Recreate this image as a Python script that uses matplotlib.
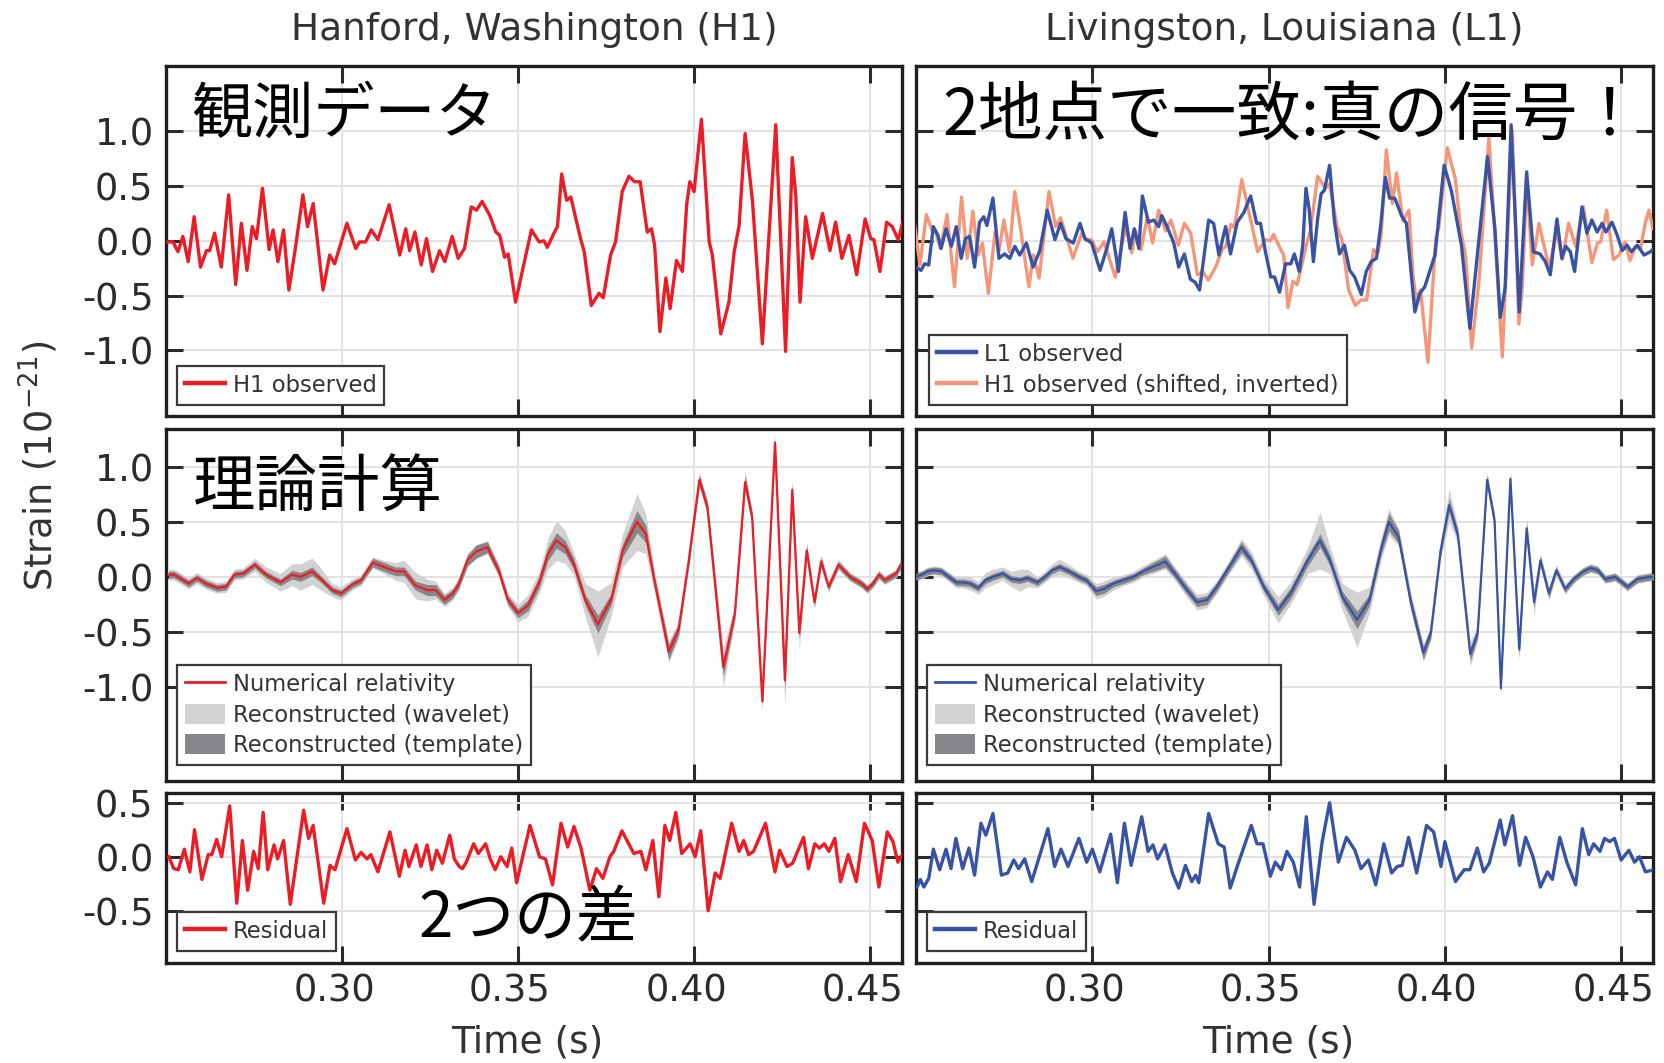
import matplotlib
matplotlib.use("Agg")
import matplotlib.pyplot as plt
import matplotlib.transforms as mtransforms
from matplotlib.ticker import FixedLocator, FormatStrFormatter
from matplotlib.patches import Patch
from matplotlib.lines import Line2D
import numpy as np

plt.rcParams['font.family'] = ['DejaVu Sans']
plt.rcParams['axes.unicode_minus'] = False
JP = ['Noto Sans CJK JP', 'DejaVu Sans']

# ---------------- data (strain in units of 1e-21, time in s) ----------------
h1_t = [0.2506, 0.2520, 0.2534, 0.2548, 0.2563, 0.2580, 0.2598, 0.2615, 0.2624, 0.2638,
        0.2657, 0.2678, 0.2698, 0.2714, 0.2730, 0.2745, 0.2757, 0.2774, 0.2793, 0.2804,
        0.2818, 0.2834, 0.2849, 0.2866, 0.2889, 0.2902, 0.2918, 0.2946, 0.2965, 0.2979,
        0.3014, 0.3039, 0.3050, 0.3067, 0.3083, 0.3102, 0.3134, 0.3164, 0.3181, 0.3192,
        0.3207, 0.3225, 0.3240, 0.3257, 0.3277, 0.3292, 0.3313, 0.3330, 0.3348, 0.3367,
        0.3382, 0.3398, 0.3420, 0.3437, 0.3448, 0.3462, 0.3472, 0.3493, 0.3514, 0.3538,
        0.3560, 0.3574, 0.3583, 0.3602, 0.3612, 0.3624, 0.3638, 0.3650, 0.3676, 0.3688,
        0.3708, 0.3730, 0.3742, 0.3763, 0.3777, 0.3796, 0.3815, 0.3831, 0.3847, 0.3867,
        0.3879, 0.3888, 0.3903, 0.3920, 0.3932, 0.3950, 0.3967, 0.3979, 0.3988, 0.4000,
        0.4021, 0.4043, 0.4052, 0.4076, 0.4099, 0.4114, 0.4128, 0.4145, 0.4166, 0.4194,
        0.4232, 0.4260, 0.4279, 0.4289, 0.4301, 0.4317, 0.4336, 0.4365, 0.4386, 0.4402,
        0.4420, 0.4440, 0.4462, 0.4486, 0.4502, 0.4511, 0.4528, 0.4547, 0.4563, 0.4580,
        0.4594, 0.4610, 0.4624, 0.4638, 0.4648, 0.4659]
h1_obs = [-0.01, -0.01, -0.10, 0.04, -0.19, 0.22, -0.24, -0.09, -0.09, 0.07,
          -0.24, 0.42, -0.40, 0.16, -0.27, 0.13, 0.02, 0.48, -0.08, 0.10,
          -0.19, 0.10, -0.45, -0.10, 0.42, 0.13, 0.34, -0.45, -0.13, -0.21,
          0.16, -0.07, -0.01, -0.01, 0.10, 0.01, 0.33, -0.13, 0.11, -0.09,
          0.08, -0.22, 0.02, -0.28, -0.09, -0.19, 0.04, -0.16, -0.07, 0.31,
          0.28, 0.36, 0.23, 0.08, 0.05, -0.15, -0.12, -0.56, -0.25, 0.10,
          -0.01, 0.00, -0.06, 0.07, 0.13, 0.61, 0.37, 0.40, 0.04, -0.10,
          -0.59, -0.48, -0.52, -0.13, -0.01, 0.45, 0.59, 0.54, 0.54, 0.08,
          0.11, -0.04, -0.83, -0.34, -0.62, -0.18, -0.28, 0.33, 0.54, 0.45,
          1.11, -0.01, -0.13, -0.85, -0.56, -0.10, 0.14, 0.98, 0.36, -0.94,
          1.06, -1.01, 0.76, 0.41, -0.56, 0.22, -0.16, 0.25, -0.09, 0.17,
          -0.16, 0.05, -0.31, 0.20, 0.02, 0.01, -0.28, 0.17, 0.13, 0.01,
          0.18, 0.05, 0.07, -0.17, -0.28, -0.11]

# H1 arrives later than L1; shifting it earlier and flipping the sign overlays it on L1
H1_SHIFT = 0.0069

l1_t = [0.2505, 0.2514, 0.2524, 0.2536, 0.2549, 0.2562, 0.2571, 0.2585, 0.2600, 0.2614,
        0.2628, 0.2640, 0.2652, 0.2666, 0.2680, 0.2692, 0.2701, 0.2718, 0.2735, 0.2751,
        0.2766, 0.2780, 0.2794, 0.2813, 0.2832, 0.2851, 0.2872, 0.2894, 0.2910, 0.2925,
        0.2946, 0.2965, 0.2979, 0.2998, 0.3022, 0.3041, 0.3055, 0.3074, 0.3093, 0.3107,
        0.3119, 0.3132, 0.3142, 0.3159, 0.3174, 0.3188, 0.3197, 0.3212, 0.3231, 0.3245,
        0.3261, 0.3278, 0.3292, 0.3304, 0.3316, 0.3330, 0.3344, 0.3359, 0.3378, 0.3392,
        0.3411, 0.3430, 0.3449, 0.3466, 0.3477, 0.3491, 0.3506, 0.3517, 0.3531, 0.3548,
        0.3563, 0.3573, 0.3587, 0.3597, 0.3606, 0.3615, 0.3627, 0.3639, 0.3649, 0.3658,
        0.3673, 0.3687, 0.3701, 0.3715, 0.3730, 0.3744, 0.3763, 0.3777, 0.3791, 0.3806,
        0.3818, 0.3831, 0.3843, 0.3858, 0.3877, 0.3891, 0.3915, 0.3929, 0.3943, 0.3972,
        0.3998, 0.4019, 0.4047, 0.4071, 0.4095, 0.4121, 0.4142, 0.4157, 0.4171, 0.4188,
        0.4199, 0.4211, 0.4232, 0.4251, 0.4270, 0.4285, 0.4299, 0.4318, 0.4332, 0.4343,
        0.4356, 0.4368, 0.4389, 0.4403, 0.4417, 0.4432, 0.4446, 0.4457, 0.4474, 0.4489,
        0.4503, 0.4517, 0.4529, 0.4546, 0.4565, 0.4583, 0.4593]
l1_obs = [-0.25, -0.27, -0.21, -0.22, 0.13, 0.05, -0.07, 0.11, -0.05, 0.13,
          -0.16, 0.02, 0.04, -0.24, 0.17, 0.22, 0.14, 0.39, -0.16, -0.12,
          -0.16, -0.05, -0.13, -0.02, -0.24, -0.09, 0.28, 0.01, 0.16, 0.02,
          -0.02, 0.16, 0.02, -0.02, -0.27, -0.07, 0.11, -0.28, 0.26, -0.07,
          0.11, -0.07, 0.41, 0.17, 0.19, 0.13, 0.23, 0.13, -0.02, -0.24,
          -0.12, -0.35, -0.38, -0.45, -0.16, 0.19, 0.16, -0.13, 0.13, -0.12,
          0.17, 0.26, 0.41, 0.16, 0.16, -0.10, -0.33, -0.33, -0.47, -0.21,
          -0.21, -0.12, -0.28, -0.04, 0.48, 0.29, -0.19, 0.20, 0.43, 0.46,
          0.69, 0.17, -0.12, -0.04, -0.27, -0.33, -0.49, -0.28, -0.19, -0.16,
          0.14, 0.58, 0.39, 0.39, 0.23, 0.16, -0.65, -0.48, -0.42, -0.13,
          0.69, 0.45, -0.04, -0.80, -0.04, 0.77, 0.11, -0.70, -0.43, 1.06,
          0.27, -0.65, 0.63, -0.10, -0.12, -0.19, -0.31, 0.20, -0.16, -0.05,
          -0.10, -0.28, 0.31, 0.07, 0.19, 0.08, 0.16, 0.08, 0.17, 0.05,
          -0.09, -0.04, -0.10, -0.04, -0.13, -0.10, -0.07]

nr_h1_t = [0.2507, 0.2523, 0.2544, 0.2564, 0.2588, 0.2613, 0.2645, 0.2670, 0.2694, 0.2719,
           0.2752, 0.2784, 0.2825, 0.2858, 0.2882, 0.2915, 0.2940, 0.2972, 0.2997, 0.3029,
           0.3054, 0.3087, 0.3119, 0.3152, 0.3176, 0.3209, 0.3242, 0.3266, 0.3291, 0.3315,
           0.3332, 0.3356, 0.3381, 0.3413, 0.3446, 0.3471, 0.3500, 0.3528, 0.3560, 0.3585,
           0.3609, 0.3634, 0.3658, 0.3691, 0.3727, 0.3765, 0.3797, 0.3838, 0.3863, 0.3887,
           0.3928, 0.3956, 0.3985, 0.4015, 0.4038, 0.4083, 0.4116, 0.4145, 0.4165, 0.4194,
           0.4230, 0.4258, 0.4279, 0.4299, 0.4320, 0.4342, 0.4361, 0.4382, 0.4410, 0.4443,
           0.4475, 0.4492, 0.4508, 0.4525, 0.4541, 0.4574, 0.4587]
nr_h1 = [0.02, 0.02, -0.02, -0.06, -0.01, -0.06, -0.10, -0.09, 0.02, 0.03,
         0.11, 0.02, -0.05, 0.02, 0.00, 0.05, -0.02, -0.12, -0.15, -0.07,
         -0.03, 0.13, 0.09, 0.05, 0.05, -0.08, -0.12, -0.12, -0.21, -0.15,
         -0.06, 0.15, 0.23, 0.27, 0.05, -0.21, -0.33, -0.26, -0.05, 0.21,
         0.33, 0.27, 0.12, -0.21, -0.43, -0.20, 0.24, 0.50, 0.39, -0.03,
         -0.68, -0.48, 0.15, 0.88, 0.63, -0.82, -0.33, 0.86, 0.54, -1.13,
         1.22, -0.94, 0.79, -0.51, 0.24, -0.23, 0.14, -0.09, 0.11, 0.00,
         -0.06, -0.11, -0.06, 0.02, -0.03, 0.03, 0.11]
h1_wavelet_hw = [0.05, 0.05, 0.05, 0.05, 0.05, 0.05, 0.05, 0.05, 0.05, 0.05,
                 0.06, 0.07, 0.08, 0.10, 0.12, 0.12, 0.10, 0.06, 0.06, 0.05,
                 0.05, 0.05, 0.06, 0.08, 0.10, 0.12, 0.10, 0.08, 0.06, 0.06,
                 0.06, 0.06, 0.06, 0.06, 0.06, 0.06, 0.08, 0.10, 0.10, 0.14,
                 0.18, 0.15, 0.10, 0.15, 0.30, 0.15, 0.15, 0.26, 0.18, 0.10,
                 0.10, 0.08, 0.06, 0.07, 0.06, 0.18, 0.08, 0.10, 0.06, 0.08,
                 0.08, 0.24, 0.10, 0.15, 0.08, 0.06, 0.06, 0.05, 0.05, 0.04,
                 0.04, 0.04, 0.04, 0.04, 0.04, 0.04, 0.04]
h1_template_hw = [0.03, 0.03, 0.03, 0.03, 0.03, 0.03, 0.03, 0.03, 0.03, 0.03,
                  0.03, 0.03, 0.03, 0.04, 0.04, 0.04, 0.03, 0.03, 0.03, 0.03,
                  0.03, 0.04, 0.04, 0.04, 0.04, 0.04, 0.05, 0.05, 0.04, 0.04,
                  0.04, 0.05, 0.06, 0.05, 0.04, 0.04, 0.04, 0.05, 0.05, 0.06,
                  0.07, 0.06, 0.05, 0.05, 0.08, 0.05, 0.06, 0.10, 0.08, 0.05,
                  0.07, 0.05, 0.05, 0.05, 0.05, 0.08, 0.05, 0.06, 0.05, 0.05,
                  0.03, 0.10, 0.05, 0.05, 0.05, 0.04, 0.04, 0.03, 0.03, 0.03,
                  0.03, 0.03, 0.03, 0.03, 0.03, 0.03, 0.03]

nr_l1_t = [0.2499, 0.2516, 0.2533, 0.2551, 0.2572, 0.2593, 0.2614, 0.2634, 0.2653, 0.2676,
           0.2697, 0.2718, 0.2746, 0.2770, 0.2795, 0.2816, 0.2844, 0.2865, 0.2886, 0.2907,
           0.2934, 0.2962, 0.2983, 0.3011, 0.3032, 0.3060, 0.3088, 0.3116, 0.3144, 0.3172,
           0.3207, 0.3234, 0.3269, 0.3297, 0.3325, 0.3353, 0.3388, 0.3423, 0.3451, 0.3486,
           0.3527, 0.3562, 0.3611, 0.3646, 0.3674, 0.3709, 0.3751, 0.3786, 0.3820, 0.3841,
           0.3869, 0.3904, 0.3939, 0.3960, 0.3988, 0.4012, 0.4037, 0.4072, 0.4093, 0.4120,
           0.4141, 0.4159, 0.4186, 0.4211, 0.4232, 0.4253, 0.4271, 0.4295, 0.4316, 0.4341,
           0.4365, 0.4393, 0.4413, 0.4434, 0.4455, 0.4483, 0.4518, 0.4546, 0.4581, 0.4602]
nr_l1 = [0.00, 0.02, 0.05, 0.06, 0.05, 0.00, -0.05, -0.05, -0.06, -0.10,
         -0.03, 0.00, 0.03, -0.02, -0.03, -0.01, -0.05, 0.00, 0.06, 0.09,
         0.05, 0.00, -0.03, -0.13, -0.11, -0.06, -0.03, 0.00, 0.05, 0.09,
         0.14, 0.03, -0.12, -0.23, -0.21, -0.09, 0.09, 0.27, 0.15, -0.09,
         -0.30, -0.15, 0.15, 0.33, 0.15, -0.18, -0.39, -0.21, 0.27, 0.50,
         0.36, -0.24, -0.69, -0.51, 0.24, 0.65, 0.38, -0.70, -0.51, 0.88,
         0.51, -1.01, 0.89, -0.66, 0.44, -0.23, 0.15, -0.15, 0.06, -0.11,
         -0.02, 0.05, 0.08, 0.06, -0.02, 0.00, -0.09, -0.02, 0.00, 0.00]
l1_wavelet_hw = [0.04, 0.04, 0.04, 0.04, 0.04, 0.04, 0.05, 0.05, 0.06, 0.06,
                 0.07, 0.07, 0.06, 0.07, 0.10, 0.08, 0.05, 0.05, 0.06, 0.07,
                 0.06, 0.05, 0.05, 0.07, 0.07, 0.06, 0.05, 0.05, 0.05, 0.06,
                 0.07, 0.06, 0.07, 0.07, 0.07, 0.06, 0.06, 0.08, 0.08, 0.08,
                 0.12, 0.10, 0.12, 0.26, 0.12, 0.12, 0.25, 0.12, 0.10, 0.12,
                 0.08, 0.08, 0.08, 0.06, 0.08, 0.15, 0.08, 0.12, 0.06, 0.06,
                 0.06, 0.05, 0.06, 0.10, 0.10, 0.12, 0.06, 0.06, 0.05, 0.05,
                 0.04, 0.04, 0.04, 0.04, 0.04, 0.04, 0.04, 0.04, 0.04, 0.04]
l1_template_hw = [0.03, 0.03, 0.03, 0.03, 0.03, 0.03, 0.03, 0.03, 0.03, 0.03,
                  0.03, 0.03, 0.03, 0.03, 0.03, 0.03, 0.03, 0.03, 0.03, 0.03,
                  0.03, 0.03, 0.03, 0.04, 0.04, 0.03, 0.03, 0.03, 0.03, 0.04,
                  0.05, 0.04, 0.04, 0.04, 0.04, 0.04, 0.04, 0.05, 0.04, 0.04,
                  0.05, 0.05, 0.05, 0.06, 0.05, 0.05, 0.08, 0.05, 0.06, 0.08,
                  0.06, 0.06, 0.06, 0.05, 0.05, 0.06, 0.05, 0.06, 0.05, 0.05,
                  0.05, 0.04, 0.05, 0.05, 0.05, 0.05, 0.04, 0.04, 0.03, 0.03,
                  0.03, 0.03, 0.03, 0.03, 0.03, 0.03, 0.03, 0.03, 0.03, 0.03]

res_h1_t = [0.2508, 0.2522, 0.2535, 0.2552, 0.2568, 0.2581, 0.2602, 0.2620, 0.2630, 0.2644,
            0.2658, 0.2681, 0.2701, 0.2717, 0.2732, 0.2749, 0.2762, 0.2776, 0.2789, 0.2807,
            0.2817, 0.2834, 0.2853, 0.2891, 0.2905, 0.2918, 0.2948, 0.2966, 0.2980, 0.3014,
            0.3038, 0.3054, 0.3071, 0.3082, 0.3102, 0.3136, 0.3163, 0.3179, 0.3190, 0.3211,
            0.3224, 0.3242, 0.3255, 0.3269, 0.3285, 0.3306, 0.3319, 0.3333, 0.3342, 0.3353,
            0.3374, 0.3387, 0.3408, 0.3421, 0.3435, 0.3451, 0.3469, 0.3482, 0.3496, 0.3534,
            0.3561, 0.3578, 0.3598, 0.3622, 0.3641, 0.3659, 0.3679, 0.3704, 0.3723, 0.3741,
            0.3761, 0.3772, 0.3795, 0.3829, 0.3849, 0.3863, 0.3883, 0.3900, 0.3917, 0.3931,
            0.3948, 0.3965, 0.3989, 0.4003, 0.4019, 0.4040, 0.4060, 0.4074, 0.4107, 0.4128,
            0.4141, 0.4155, 0.4169, 0.4203, 0.4230, 0.4243, 0.4264, 0.4280, 0.4311, 0.4325,
            0.4343, 0.4356, 0.4370, 0.4383, 0.4400, 0.4416, 0.4438, 0.4461, 0.4484, 0.4506,
            0.4525, 0.4549, 0.4565, 0.4579, 0.4597]
res_h1 = [0.00, -0.11, -0.12, 0.07, -0.14, 0.25, -0.21, 0.02, 0.02, 0.16,
          0.00, 0.47, -0.43, 0.15, -0.31, 0.05, -0.11, 0.41, -0.12, 0.11,
          -0.02, 0.15, -0.44, 0.43, 0.17, 0.29, -0.43, -0.08, -0.12, 0.26,
          -0.03, 0.04, -0.02, 0.02, -0.14, 0.23, -0.18, 0.06, -0.09, 0.11,
          -0.09, 0.11, -0.12, 0.06, -0.06, 0.20, -0.02, -0.09, -0.11, -0.05,
          0.12, 0.03, 0.12, -0.02, -0.12, 0.00, -0.09, 0.08, -0.24, 0.29,
          0.00, -0.02, -0.26, 0.31, 0.09, 0.28, 0.08, -0.31, -0.11, -0.20,
          0.00, 0.05, 0.24, 0.03, 0.05, -0.12, 0.15, -0.37, 0.29, 0.15,
          0.41, 0.03, 0.12, 0.00, 0.24, -0.50, -0.15, -0.20, 0.31, 0.05,
          0.15, 0.02, 0.05, 0.31, -0.14, 0.06, -0.09, -0.06, 0.18, -0.11,
          0.12, 0.08, 0.12, 0.05, 0.17, -0.23, 0.02, -0.23, 0.31, 0.15,
          -0.28, 0.23, 0.14, -0.05, 0.05]

res_l1_t = [0.2503, 0.2512, 0.2522, 0.2536, 0.2549, 0.2567, 0.2585, 0.2599, 0.2613, 0.2632,
            0.2650, 0.2666, 0.2684, 0.2698, 0.2718, 0.2742, 0.2760, 0.2777, 0.2791, 0.2808,
            0.2828, 0.2874, 0.2893, 0.2911, 0.2931, 0.2962, 0.2984, 0.3000, 0.3021, 0.3052,
            0.3071, 0.3091, 0.3110, 0.3140, 0.3158, 0.3172, 0.3185, 0.3206, 0.3227, 0.3245,
            0.3264, 0.3282, 0.3293, 0.3302, 0.3330, 0.3357, 0.3374, 0.3391, 0.3412, 0.3451,
            0.3467, 0.3484, 0.3505, 0.3519, 0.3536, 0.3552, 0.3570, 0.3588, 0.3607, 0.3629,
            0.3652, 0.3673, 0.3698, 0.3721, 0.3745, 0.3762, 0.3783, 0.3804, 0.3827, 0.3849,
            0.3865, 0.3879, 0.3897, 0.3920, 0.3948, 0.3968, 0.3989, 0.4000, 0.4030, 0.4055,
            0.4071, 0.4092, 0.4110, 0.4126, 0.4157, 0.4170, 0.4192, 0.4212, 0.4229, 0.4250,
            0.4271, 0.4291, 0.4305, 0.4326, 0.4346, 0.4371, 0.4390, 0.4408, 0.4422, 0.4440,
            0.4453, 0.4467, 0.4481, 0.4500, 0.4522, 0.4538, 0.4552, 0.4569, 0.4593]
res_l1 = [-0.28, -0.21, -0.28, -0.20, 0.07, -0.12, 0.07, -0.11, 0.17, -0.11,
          0.08, -0.17, 0.31, 0.20, 0.40, -0.17, -0.15, -0.03, -0.11, -0.02,
          -0.23, 0.26, -0.09, 0.07, -0.09, 0.17, -0.05, 0.07, -0.14, 0.21,
          -0.24, 0.31, -0.08, 0.37, 0.05, 0.11, -0.02, 0.11, -0.15, -0.29,
          -0.08, -0.23, -0.17, -0.24, 0.40, 0.12, 0.09, -0.29, -0.08, 0.29,
          0.12, 0.12, -0.18, -0.05, -0.12, 0.05, -0.05, -0.28, 0.37, -0.44,
          0.14, 0.50, -0.05, 0.18, 0.06, -0.11, -0.03, -0.26, 0.12, -0.15,
          -0.09, -0.08, 0.18, -0.15, 0.29, 0.23, -0.09, 0.14, -0.23, -0.12,
          -0.12, 0.08, -0.14, -0.06, 0.34, 0.11, 0.38, -0.08, 0.18, 0.00,
          -0.28, -0.14, -0.21, 0.18, -0.05, -0.26, 0.26, 0.02, 0.12, 0.05,
          0.17, 0.14, 0.17, -0.03, 0.06, -0.05, 0.00, -0.14, -0.12]

x_ticks = [0.30, 0.35, 0.40, 0.45]
strain_ticks = [-1.0, -0.5, 0.0, 0.5, 1.0]
residual_ticks = [-0.5, 0.0, 0.5]

# ---------------- styling ----------------
RED = '#ec1c24'
BLUE = '#3953a4'
SALMON = '#f69679'
WAVELET = '#d2d2d2'
TEMPLATE = '#87878b'
INK = '#2b2b2b'
XLIM = (0.25, 0.459)

fig = plt.figure(figsize=(16.65, 10.63), dpi=100)

cols = [(0.0997, 0.4419), (0.5502, 0.4425)]
rows = [(0.6087, 0.3295), (0.2656, 0.3306), (0.0944, 0.1596)]
axes = [[fig.add_axes([c[0], r[0], c[1], r[1]]) for c in cols] for r in rows]


def style(ax, yticks, ylim, show_x, show_y):
    ax.set_xlim(*XLIM)
    ax.set_ylim(*ylim)
    ax.xaxis.set_major_locator(FixedLocator(x_ticks))
    ax.yaxis.set_major_locator(FixedLocator(yticks))
    ax.xaxis.set_major_formatter(FormatStrFormatter('%.2f'))
    ax.yaxis.set_major_formatter(FormatStrFormatter('%.1f'))
    ax.tick_params(direction='in', length=12, width=2.2, top=True, right=True,
                   labelsize=26.5, colors=INK, pad=9,
                   labelbottom=show_x, labelleft=show_y)
    ax.tick_params(axis='x', pad=7)
    ax.grid(True, color='#e2e2e2', lw=1.4)
    ax.set_axisbelow(True)
    for s in ax.spines.values():
        s.set_linewidth(2.4)
        s.set_color('#1e1e1e')


def legend(ax, handles, labels, anchor):
    leg = ax.legend(handles, labels, loc='lower left', bbox_to_anchor=anchor,
                    borderaxespad=0, fontsize=16.3, fancybox=False, framealpha=1,
                    edgecolor='#3a3a3a', handlelength=1.75, handleheight=1.0,
                    handletextpad=0.35, borderpad=0.35, labelspacing=0.33,
                    labelcolor='#333333')
    leg.get_frame().set_linewidth(1.6)
    leg.set_zorder(6)
    return leg


OBS_LW = 2.4

# top row: observed strain
ax = axes[0][0]
style(ax, strain_ticks, (-1.6, 1.6), False, True)
ax.plot(h1_t, h1_obs, color=RED, lw=OBS_LW, zorder=3)
legend(ax, [Line2D([], [], color=RED, lw=3.2)], ['H1 observed'], (0.015, 0.032))
ax.text(0.034, 0.857, '観測データ', transform=ax.transAxes, fontsize=44,
        family=JP, va='center', ha='left', color='black', zorder=7)

ax = axes[0][1]
style(ax, strain_ticks, (-1.6, 1.6), False, False)
ax.plot(np.array(h1_t) - H1_SHIFT, -np.array(h1_obs), color=SALMON, lw=OBS_LW, zorder=3)
ax.plot(l1_t, l1_obs, color=BLUE, lw=OBS_LW, zorder=4)
legend(ax, [Line2D([], [], color=BLUE, lw=3.2), Line2D([], [], color=SALMON, lw=3.2)],
       ['L1 observed', 'H1 observed (shifted, inverted)'], (0.017, 0.032))
ax.text(0.036, 0.855, '2地点で一致:真の信号！', transform=ax.transAxes, fontsize=46.5,
        family=JP, va='center', ha='left', color='black', zorder=7)

# middle row: numerical relativity waveform with reconstruction bands
for ax, t, nr, ww, wt, col, show_y in [
        (axes[1][0], nr_h1_t, nr_h1, h1_wavelet_hw, h1_template_hw, RED, True),
        (axes[1][1], nr_l1_t, nr_l1, l1_wavelet_hw, l1_template_hw, BLUE, False)]:
    style(ax, strain_ticks, (-1.85, 1.34), False, show_y)
    t = np.array(t); nr = np.array(nr); ww = np.array(ww); wt = np.array(wt)
    ax.fill_between(t, nr - ww, nr + ww, color=WAVELET, lw=0, zorder=2)
    ax.fill_between(t, nr - wt, nr + wt, color=TEMPLATE, lw=0, zorder=3)
    ax.plot(t, nr, color=col, lw=1.6, zorder=4)
    legend(ax, [Line2D([], [], color=col, lw=2.0),
                Patch(facecolor=WAVELET, edgecolor='none'),
                Patch(facecolor=TEMPLATE, edgecolor='none')],
           ['Numerical relativity', 'Reconstructed (wavelet)', 'Reconstructed (template)'],
           (0.015, 0.045))
axes[1][0].text(0.036, 0.83, '理論計算', transform=axes[1][0].transAxes, fontsize=45,
                family=JP, va='center', ha='left', color='black', zorder=7)

# bottom row: residuals
for ax, t, r, col, show_y in [(axes[2][0], res_h1_t, res_h1, RED, True),
                              (axes[2][1], res_l1_t, res_l1, BLUE, False)]:
    style(ax, residual_ticks, (-0.98, 0.59), True, show_y)
    ax.plot(t, r, color=col, lw=OBS_LW, zorder=3)
    legend(ax, [Line2D([], [], color=col, lw=3.2)], ['Residual'], (0.015, 0.07))
axes[2][0].text(0.343, 0.255, '2つの差', transform=axes[2][0].transAxes, fontsize=44.5,
                family=JP, va='center', ha='left', color='black', zorder=7)

# titles and axis labels
label_shift = 6.5 / 1665
for (left, width), name in zip(cols, ['Hanford, Washington (H1)', 'Livingston, Louisiana (L1)']):
    fig.text(left + width / 2, 0.962, name, ha='center', va='baseline',
             fontsize=27, color='#333333')
    fig.text(left + width / 2 - label_shift, 0.0095, 'Time (s)', ha='center',
             va='baseline', fontsize=27, color='#333333')
fig.text(0.0235, 0.562, r'Strain ($10^{-21}$)', rotation=90, ha='center', va='center',
         fontsize=26.5, color='#333333')

# time labels sit slightly left of their ticks
shift = mtransforms.ScaledTranslation(-8 / 100, 0, fig.dpi_scale_trans)
for ax in axes[2]:
    for tick in ax.xaxis.get_major_ticks():
        tick.label1.set_transform(tick.label1.get_transform() + shift)

fig.savefig('out.png', dpi=100)
